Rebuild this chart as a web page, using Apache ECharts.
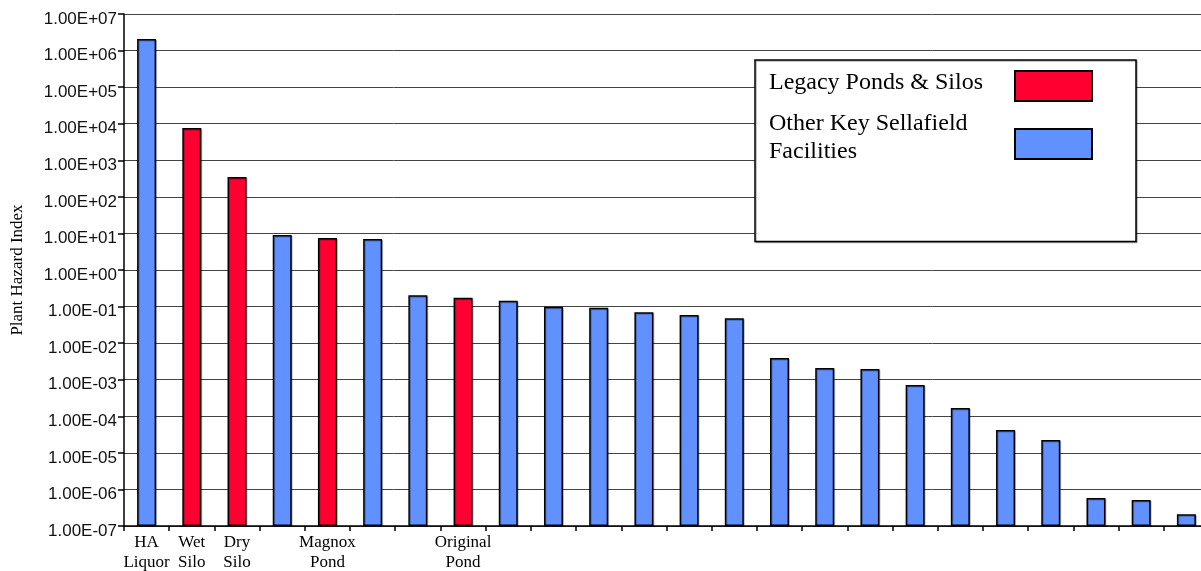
<!DOCTYPE html>
<html>
<head>
<meta charset="utf-8">
<script src="https://cdn.jsdelivr.net/npm/echarts@6/dist/echarts.min.js"></script>
<style>
    html, body { margin: 0; padding: 0; background: #fff; }
    #chart { width: 1201px; height: 571px; }
</style>
</head>
<body>
<div id="chart"></div>
<script>
// facility labels (blank = unlabelled bar)
const facilities = [
    'HA\nLiquor', 'Wet\nSilo', 'Dry\nSilo', '', 'Magnox\nPond', '', '', 'Original\nPond',
    '', '', '', '', '', '', '', '', '', '', '', '', '', '', '', ''
]
// plant hazard index per facility
const hazardIndex = [
    2.07e6, 7.6e3, 350, 9.0, 7.5, 7.0, 0.203, 0.175,
    0.145, 0.099, 0.093, 0.0695, 0.0588, 0.0479, 0.0039, 0.0021,
    0.00195, 0.00072, 1.68e-4, 4.2e-5, 2.24e-5, 5.8e-7, 5.1e-7, 2.09e-7
]
// 1 = Legacy Ponds & Silos, 0 = other facilities
const isLegacy = [
    0, 1, 1, 0, 1, 0, 0, 1,
    0, 0, 0, 0, 0, 0, 0, 0,
    0, 0, 0, 0, 0, 0, 0, 0
]
const seriesNames = ['Legacy Ponds & Silos', 'Other Key Sellafield\nFacilities']
const seriesColors = ['#FF0030', '#6190FF']

const legacyValues = hazardIndex.map((v, i) => (isLegacy[i] ? v : null))
const otherValues = hazardIndex.map((v, i) => (isLegacy[i] ? null : v))

const chart = echarts.init(document.getElementById('chart'))

const barStyle = (color) => ({
    color: color,
    borderColor: '#000',
    borderWidth: 1.5,
    shadowColor: 'rgba(0,0,0,0.25)',
    shadowOffsetX: 1,
    shadowOffsetY: 1
})

const option = {
    animation: false,
    grid: {
        left: 124,
        top: 14,
        width: 1085,
        bottom: 45,
        outerBoundsMode: 'none'
    },
    legend: {
        orient: 'vertical',
        left: 755,
        top: 60,
        align: 'right',
        icon: 'rect',
        padding: [10, 43, 69, 14],
        itemGap: 10,
        itemWidth: 77,
        itemHeight: 30,
        backgroundColor: '#fff',
        borderColor: '#000',
        borderWidth: 1.5,
        shadowColor: 'rgba(0,0,0,0.3)',
        shadowOffsetX: 1,
        shadowOffsetY: 1,
        // left-aligned text block of fixed width so both icons line up,
        // with a spacer line so the text sits a little above the swatch
        formatter: (name) => {
            const lines = name.split('\n')
            const spacer = lines.length > 1 ? '{s2|}' : '{s1|}'
            return lines.map((s) => '{t|' + s + '}').join('\n') + '\n' + spacer
        },
        textStyle: {
            rich: {
                t: {
                    fontFamily: 'Liberation Serif',
                    fontSize: 24,
                    color: '#000',
                    align: 'left',
                    width: 241,
                    lineHeight: 28
                },
                s1: { lineHeight: 6, fontSize: 1, width: 241 },
                s2: { lineHeight: 12, fontSize: 1, width: 241 }
            }
        },
        data: seriesNames
    },
    xAxis: {
        type: 'category',
        data: facilities.map((f, i) => f || '#' + (i + 1)),
        axisLine: { lineStyle: { color: '#000', width: 1.5 } },
        axisTick: { show: true, length: 5, lineStyle: { color: '#000', width: 1.5 } },
        axisLabel: {
            interval: 0,
            margin: 7,
            fontFamily: 'Liberation Serif',
            fontSize: 17,
            lineHeight: 20,
            color: '#000',
            formatter: (v, i) => facilities[i]
        }
    },
    yAxis: {
        type: 'log',
        logBase: 10,
        min: 1e-7,
        max: 1e7,
        interval: 1,
        startValue: 1e-7,
        name: 'Plant Hazard Index',
        nameLocation: 'middle',
        nameGap: 98,
        nameTextStyle: {
            fontFamily: 'Liberation Serif',
            fontSize: 17,
            color: '#000'
        },
        axisLine: { show: true, lineStyle: { color: '#000', width: 1.5 } },
        axisTick: { show: true, length: 6, lineStyle: { color: '#000', width: 1.5 } },
        splitLine: { show: true, lineStyle: { color: '#444', width: 1 } },
        axisLabel: {
            margin: 7,
            formatter: (v) => {
                const e = Math.round(Math.log10(v))
                const sign = e < 0 ? '-' : '+'
                const abs = Math.abs(e)
                return '{v|1.00E' + sign + (abs < 10 ? '0' + abs : abs) + '}'
            },
            rich: {
                v: {
                    fontFamily: 'Liberation Sans',
                    fontSize: 17,
                    color: '#111',
                    padding: [10, 0, 0, 0]
                }
            }
        }
    },
    series: [
        {
            name: seriesNames[0],
            type: 'bar',
            barWidth: 19,
            barGap: '-100%',
            itemStyle: barStyle(seriesColors[0]),
            data: legacyValues
        },
        {
            name: seriesNames[1],
            type: 'bar',
            barWidth: 19,
            barGap: '-100%',
            itemStyle: barStyle(seriesColors[1]),
            data: otherValues
        }
    ]
}

chart.setOption(option)
</script>
</body>
</html>
